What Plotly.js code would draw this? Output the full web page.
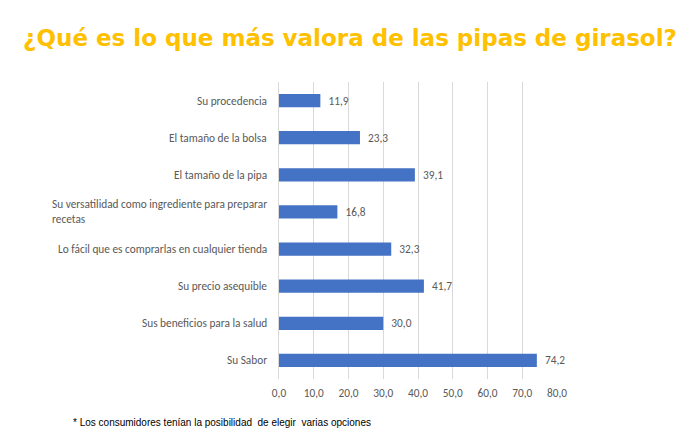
<!DOCTYPE html>
<html>
<head>
<meta charset="utf-8">
<script src="https://cdn.plot.ly/plotly-3.0.1.min.js"></script>
<style>html,body{margin:0;padding:0;background:#fff;}#chart{width:700px;height:446px;}</style>
</head>
<body>
<div id="chart"></div>
<script>
var categories = [
  "Su procedencia",
  "El tamaño de la bolsa",
  "El tamaño de la pipa",
  "Su versatilidad como ingrediente para preparar<br>recetas",
  "Lo fácil que es comprarlas en cualquier tienda",
  "Su precio asequible",
  "Sus beneficios para la salud",
  "Su Sabor"
];
var values = [11.9, 23.3, 39.1, 16.8, 32.3, 41.7, 30.0, 74.2];
var tickValues = [0, 10, 20, 30, 40, 50, 60, 70, 80];
var titleText = "¿Qué es lo que más valora de las pipas de girasol?";
var footnote = "* Los consumidores tenían la posibilidad  de elegir  varias opciones";

var labelFont = {family: "Carlito, 'Open Sans', sans-serif", size: 11.3, color: "#595959"};

var trace = {
  type: "bar",
  orientation: "h",
  x: values,
  y: categories,
  marker: {color: "#4472C4", line: {width: 0}},
  texttemplate: "\u00a0\u00a0%{x:.1f}",
  textposition: "outside",
  constraintext: "none",
  textfont: labelFont,
  cliponaxis: false,
  hoverinfo: "none"
};

var annotations = categories.map(function (c) {
  return {
    xref: "paper", yref: "y", x: 0, y: c, xshift: -10,
    xanchor: "right", yanchor: "middle", align: "left",
    text: c, showarrow: false, font: labelFont
  };
});
annotations.push({
  xref: "paper", yref: "paper", x: -0.75, y: -0.145,
  xanchor: "left", yanchor: "middle", align: "left",
  text: footnote, showarrow: false,
  font: {family: "'Liberation Sans', Arial, sans-serif", size: 10, color: "#000"}
});

var layout = {
  width: 700, height: 446,
  margin: {l: 279, r: 143, t: 82, b: 67},
  paper_bgcolor: "#fff", plot_bgcolor: "#fff",
  separators: ", ",
  showlegend: false,
  bargap: 0.64,
  title: {
    text: titleText, x: 0.5, xref: "container", xanchor: "center",
    y: 0.915, yref: "container", yanchor: "middle",
    font: {family: "'DejaVu Sans', sans-serif", size: 23, color: "#FFC000", weight: "bold"}
  },
  xaxis: {
    range: [0, 80], tickvals: tickValues, tickformat: ".1f",
    showgrid: true, gridcolor: "#D9D9D9", gridwidth: 1,
    zeroline: false, showline: false, ticks: "", ticklabelstandoff: 6,
    tickfont: labelFont, fixedrange: true
  },
  yaxis: {
    type: "category", autorange: "reversed",
    showticklabels: false, showgrid: false, zeroline: false,
    showline: true, linecolor: "#D9D9D9", linewidth: 1, ticks: "", fixedrange: true
  },
  annotations: annotations
};

Plotly.newPlot("chart", [trace], layout, {staticPlot: true, displayModeBar: false});
</script>
</body>
</html>
